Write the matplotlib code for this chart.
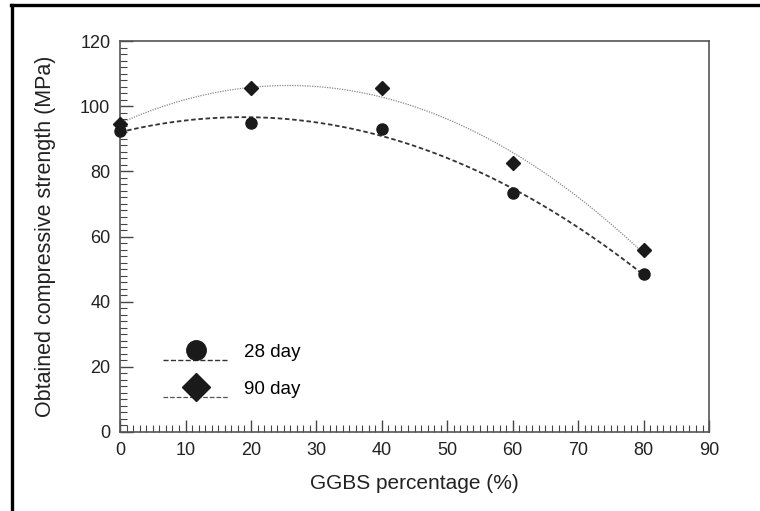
import numpy as np
import matplotlib
matplotlib.use('Agg')
import matplotlib.pyplot as plt
from matplotlib.lines import Line2D
from matplotlib.legend_handler import HandlerBase
from matplotlib.ticker import MultipleLocator

plt.rcParams['font.family'] = ['Liberation Sans', 'DejaVu Sans']

# datos
ggbs = [0, 20, 40, 60, 80]
dia28 = [92.5, 95.0, 93.0, 73.5, 48.5]
dia90 = [94.5, 105.5, 105.5, 82.5, 56.0]


# leyenda con la linea debajo del marcador
class LineaDebajo(HandlerBase):
    def create_artists(self, legend, orig, xd, yd, width, height, fontsize, trans):
        linea = Line2D([-xd, width - xd], [-yd - 0.25 * height] * 2,
                       linestyle=orig.get_linestyle(), color=orig.get_color(),
                       linewidth=orig.get_linewidth())
        marca = Line2D([width / 2 - xd], [height / 2 - yd],
                       marker=orig.get_marker(), markersize=14, color='#1a1a1a',
                       linestyle='none')
        linea.set_transform(trans)
        marca.set_transform(trans)
        return [linea, marca]


fig = plt.figure(figsize=(7.6, 5.11), dpi=100)
ax = fig.add_axes([0.158, 0.1546, 0.775, 0.765])

xs = np.linspace(0, 80, 200)
c28 = np.polyfit(ggbs, dia28, 2)
c90 = np.polyfit(ggbs, dia90, 2)

ax.plot(xs, np.polyval(c28, xs), color='#333333', linestyle=(0, (2.5, 1.5)), linewidth=1.3)
ax.plot(xs, np.polyval(c90, xs), color='#888888', linestyle=(0, (1, 1)), linewidth=0.9)
ax.plot(ggbs, dia28, 'o', color='#1a1a1a', markersize=8, clip_on=False, zorder=3)
ax.plot(ggbs, dia90, 'D', color='#1a1a1a', markersize=7, clip_on=False, zorder=3)

h28 = Line2D([], [], color='#333333', linestyle=(0, (2.5, 1.5)), linewidth=1.0, marker='o')
h90 = Line2D([], [], color='#555555', linestyle=(0, (0.8, 1.2)), linewidth=0.9, marker='D')
ax.legend([h28, h90], ['28 day', '90 day'], handler_map={Line2D: LineaDebajo()},
          loc='lower left', bbox_to_anchor=(0.045, 0.045), frameon=False,
          fontsize=13.5, handlelength=3.5, handletextpad=0.8, labelspacing=1.05)

ax.set_xlim(0, 90)
ax.set_ylim(0, 120)
ax.xaxis.set_major_locator(MultipleLocator(10))
ax.xaxis.set_minor_locator(MultipleLocator(1))
ax.yaxis.set_major_locator(MultipleLocator(20))
ax.yaxis.set_minor_locator(MultipleLocator(2))
ax.tick_params(which='both', direction='in', colors='#444444', labelcolor='#222222', labelsize=13)
ax.tick_params(which='major', length=9, width=1.0, pad=7)
ax.tick_params(which='minor', length=5, width=0.8)
for s in ax.spines.values():
    s.set_color('#555555')
    s.set_linewidth(1.2)

ax.set_xlabel('GGBS percentage (%)', fontsize=15, color='#222222', labelpad=11)
ax.set_ylabel('Obtained compressive strength (MPa)', fontsize=15.5, color='#222222', labelpad=17)

# marco negro arriba y a la izquierda
fig.add_artist(Line2D([11 / 760, 1], [1 - 5 / 511] * 2, color='black', linewidth=2.4))
fig.add_artist(Line2D([12 / 760] * 2, [0, 1 - 5 / 511], color='black', linewidth=2.4))

fig.savefig('out.png', dpi=100)
